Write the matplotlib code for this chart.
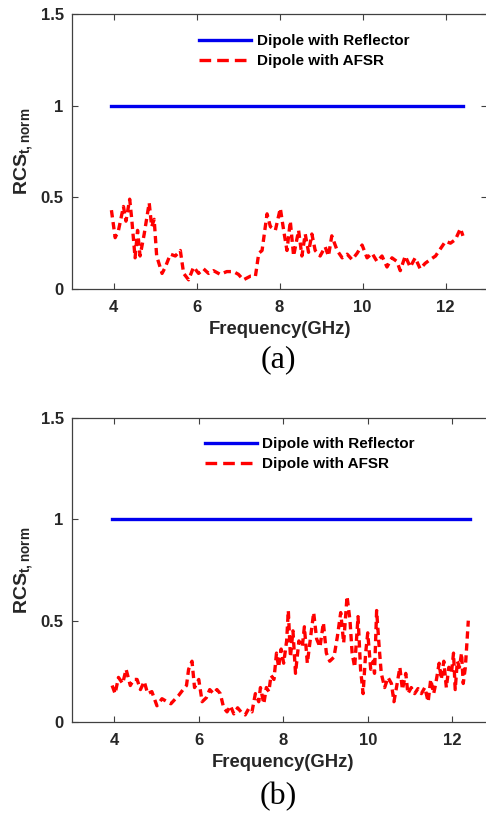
import matplotlib
matplotlib.use("Agg")
import matplotlib.pyplot as plt
from matplotlib.lines import Line2D

plt.rcParams['font.family'] = ['Liberation Sans', 'DejaVu Sans']
plt.rcParams['mathtext.fontset'] = 'custom'
plt.rcParams['mathtext.rm'] = 'Liberation Sans:bold'
plt.rcParams['mathtext.bf'] = 'Liberation Sans:bold'
plt.rcParams['mathtext.it'] = 'Liberation Sans:bold'

# reference (metal reflector) level
ref_freq = [3.95, 12.42]
ref_rcs = [1.0, 1.0]

# panel (a): dipole with AFSR
freq_a = [3.95, 4.04, 4.12, 4.24, 4.30, 4.39, 4.44, 4.52, 4.58, 4.64, 4.74, 4.86,
          4.92, 4.98, 5.04, 5.17, 5.25, 5.37, 5.49, 5.61, 5.69, 5.81, 5.93, 6.05,
          6.17, 6.29, 6.41, 6.57, 6.73, 6.89, 7.01, 7.13, 7.30, 7.42, 7.50, 7.58,
          7.70, 7.78, 7.90, 8.02, 8.10, 8.18, 8.26, 8.34, 8.46, 8.54, 8.62, 8.70,
          8.78, 8.86, 8.98, 9.10, 9.18, 9.26, 9.39, 9.51, 9.63, 9.75, 9.87, 9.99,
          10.11, 10.23, 10.35, 10.47, 10.59, 10.71, 10.83, 10.91, 11.03, 11.15,
          11.27, 11.39, 11.51, 11.63, 11.76, 11.88, 12.00, 12.12, 12.24, 12.36, 12.42]
rcs_a = [0.43, 0.28, 0.32, 0.45, 0.37, 0.49, 0.38, 0.17, 0.32, 0.18, 0.30, 0.47,
         0.34, 0.38, 0.18, 0.085, 0.12, 0.19, 0.18, 0.21, 0.085, 0.05, 0.12, 0.085,
         0.11, 0.085, 0.10, 0.08, 0.095, 0.095, 0.08, 0.05, 0.07, 0.07, 0.195, 0.21,
         0.41, 0.34, 0.32, 0.44, 0.32, 0.21, 0.37, 0.18, 0.32, 0.18, 0.30, 0.20,
         0.30, 0.21, 0.18, 0.23, 0.18, 0.29, 0.21, 0.17, 0.19, 0.16, 0.195, 0.24,
         0.17, 0.195, 0.15, 0.18, 0.12, 0.17, 0.15, 0.10, 0.18, 0.12,
         0.17, 0.11, 0.14, 0.16, 0.18, 0.22, 0.26, 0.25, 0.27, 0.33, 0.29]

# panel (b): dipole with AFSR
freq_b = [3.95, 4.02, 4.10, 4.20, 4.28, 4.38, 4.46, 4.54, 4.62, 4.71, 4.79, 4.89,
          5.01, 5.13, 5.25, 5.34, 5.45, 5.52, 5.63, 5.71, 5.76, 5.84, 5.90, 6.00,
          6.08, 6.18, 6.26, 6.35, 6.43, 6.51, 6.59, 6.67, 6.75, 6.83, 6.92, 7.00,
          7.10, 7.18, 7.26, 7.34, 7.42, 7.46, 7.54, 7.60, 7.66, 7.71, 7.78, 7.84,
          7.89, 7.95, 8.01, 8.08, 8.12, 8.17, 8.23, 8.29, 8.37, 8.45, 8.50, 8.57,
          8.66, 8.72, 8.79, 8.87, 8.95, 9.02, 9.10, 9.20, 9.28, 9.36, 9.43, 9.51,
          9.58, 9.63, 9.69, 9.77, 9.83, 9.89, 9.95, 10.00, 10.07, 10.13, 10.16,
          10.21, 10.27, 10.32, 10.40, 10.48, 10.56, 10.62, 10.68, 10.76, 10.82,
          10.90, 10.95, 11.03, 11.11, 11.19, 11.27, 11.35, 11.43, 11.49, 11.56,
          11.61, 11.69, 11.74, 11.80, 11.86, 11.92, 11.98, 12.03, 12.07, 12.12,
          12.17, 12.22, 12.26, 12.31, 12.35, 12.38]
rcs_b = [0.18, 0.14, 0.22, 0.19, 0.26, 0.18, 0.21, 0.21, 0.16, 0.20, 0.14, 0.15,
         0.08, 0.115, 0.10, 0.09, 0.115, 0.13, 0.16, 0.18, 0.26, 0.30, 0.17, 0.21,
         0.10, 0.12, 0.16, 0.14, 0.16, 0.14, 0.07, 0.05, 0.08, 0.04, 0.07, 0.05,
         0.035, 0.065, 0.05, 0.14, 0.10, 0.17, 0.09, 0.17, 0.15, 0.23, 0.21, 0.34,
         0.27, 0.36, 0.29, 0.40, 0.55, 0.32, 0.45, 0.24, 0.40, 0.37, 0.47, 0.29,
         0.44, 0.54, 0.41, 0.37, 0.49, 0.34, 0.30, 0.32, 0.42, 0.54, 0.39, 0.62,
         0.50, 0.34, 0.27, 0.52, 0.26, 0.14, 0.34, 0.44, 0.26, 0.30, 0.24,
         0.55, 0.37, 0.24, 0.17, 0.22, 0.19, 0.10, 0.17, 0.27, 0.16,
         0.24, 0.14, 0.17, 0.14, 0.165, 0.14, 0.17, 0.10, 0.21, 0.14,
         0.19, 0.29, 0.21, 0.30, 0.17, 0.27, 0.24, 0.34, 0.16, 0.30,
         0.27, 0.34, 0.19, 0.27, 0.40, 0.50]

xticks = [4, 6, 8, 10, 12]
yticks = [0, 0.5, 1, 1.5]
ytick_labels = ['0', '0.5', '1', '1.5']
labels = ['Dipole with Reflector', 'Dipole with AFSR']

BLUE = '#0000ee'
RED = '#ff0000'
TXT = '#262626'

fig = plt.figure(figsize=(4.86, 8.17), dpi=100)


def draw_panel(ax, freq, rcs, tag, tag_y, leg_anchor):
    ax.plot(ref_freq, ref_rcs, color=BLUE, lw=2.4)
    ax.plot(freq, rcs, color=RED, lw=2.4, linestyle=(0, (2.2, 1.4)))
    ax.set_xlim(3, 13)
    ax.set_ylim(0, 1.5)
    ax.set_xticks(xticks)
    ax.set_yticks(yticks)
    ax.set_yticklabels(ytick_labels)
    ax.tick_params(direction='in', top=True, right=True, length=4, width=0.8,
                   color='#404040', labelsize=12, labelcolor=TXT)
    ax.tick_params(axis='x', pad=8)
    ax.tick_params(axis='y', pad=6)
    for lab in ax.get_xticklabels() + ax.get_yticklabels():
        lab.set_fontweight('bold')
    for sp in ax.spines.values():
        sp.set_color('#404040')
        sp.set_linewidth(0.9)
    ax.set_xlabel('Frequency(GHz)', fontsize=13.3, fontweight='bold',
                  color=TXT, labelpad=4)
    ax.set_ylabel(r'$\mathbf{RCS_{t,norm}}$', fontsize=14, color=TXT,
                  labelpad=4)
    # legend handles: MATLAB draws the legend sample with full-length dashes
    handles = [Line2D([], [], color=BLUE, lw=2.4),
               Line2D([], [], color=RED, lw=2.4, linestyle=(0, (3.5, 1.8)))]
    ax.legend(handles, labels, loc='upper left', bbox_to_anchor=leg_anchor,
              frameon=False, prop={'weight': 'bold', 'size': 11},
              handlelength=3.4, handletextpad=0.35, labelspacing=0.4,
              borderpad=0, borderaxespad=0)
    fig.text(278 / 486, tag_y, tag, fontsize=23, family='Liberation Serif',
             ha='center', va='center', color='black')


ax_a = fig.add_axes([72 / 486, 1 - 289 / 817, 415 / 486, 275 / 817])
draw_panel(ax_a, freq_a, rcs_a, '(a)', 1 - 360 / 817, (0.307, 0.927))

ax_b = fig.add_axes([72 / 486, 1 - 722 / 817, 422.5 / 486, 304 / 817])
draw_panel(ax_b, freq_b, rcs_b, '(b)', 1 - 797 / 817, (0.315, 0.937))

fig.savefig('out.png', dpi=100)
